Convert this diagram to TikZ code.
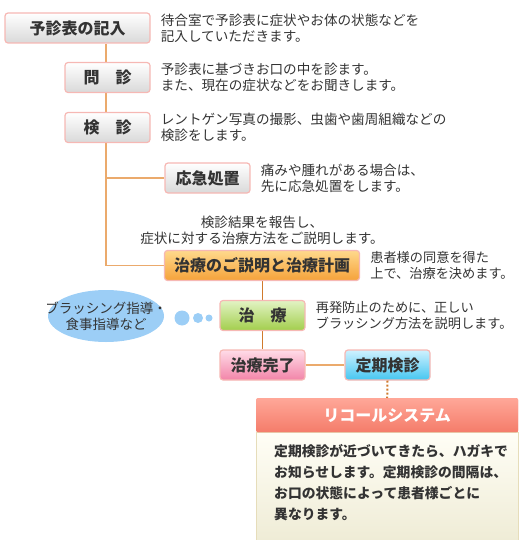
\documentclass[tikz,border=0pt]{standalone}
\usepackage{fontspec}
\setmainfont{Noto Sans CJK JP}
\usepackage{xcolor}
\usetikzlibrary{positioning,backgrounds}
\definecolor{ink}{HTML}{333333}
\definecolor{lineA}{HTML}{EBAA6C}
\definecolor{lineB}{HTML}{D07A2C}
\definecolor{glow}{HTML}{F6B8B4}
\definecolor{greyTop}{HTML}{FFFFFF}
\definecolor{greyBot}{HTML}{D9D9D9}
\definecolor{orTop}{HTML}{FFD98C}
\definecolor{orBot}{HTML}{F5A23A}
\definecolor{grTop}{HTML}{E2F3C4}
\definecolor{grBot}{HTML}{A2CE4C}
\definecolor{pkTop}{HTML}{FFDCE8}
\definecolor{pkBot}{HTML}{F284A8}
\definecolor{blTop}{HTML}{CFF1FF}
\definecolor{blBot}{HTML}{45C6F0}
\definecolor{bubble}{HTML}{9CCEF6}
\definecolor{hdTop}{HTML}{FFA798}
\definecolor{hdBot}{HTML}{F47C6A}
\definecolor{bdTop}{HTML}{FFFEF6}
\definecolor{bdBot}{HTML}{EFECD6}
\definecolor{bdLine}{HTML}{E6DDBA}
\tikzset{stepbox/.style={draw=glow,line width=1.2pt,rounded corners=3pt,
  minimum height=30pt,inner sep=0pt,font=\fontsize{16}{18}\selectfont\bfseries,
  text=ink,top color=greyTop,bottom color=greyBot},
  desc/.style={anchor=west,inner sep=0pt,align=left,text=ink,
  font=\fontsize{13.6}{16}\selectfont},
  link/.style={draw=lineA,line width=1.5pt},
  linkdark/.style={draw=lineB,line width=1.5pt}}

\begin{document}
\begin{tikzpicture}[x=1pt,y=-1pt]
\useasboundingbox (0,0) rectangle (520,540);
% flow of the visit
\node[stepbox,minimum width=145pt] (entry) at (77.5,28) {予診表の記入};
\node[desc,right=10pt of entry] (entrytxt) {待合室で予診表に症状やお体の状態などを\\記入していただきます。};
\node[stepbox,minimum width=85pt] (interview) at (107.5,77.5) {問\hspace{1em}診};
\node[desc,right=10pt of interview] (interviewtxt) {予診表に基づきお口の中を診ます。\\また、現在の症状などをお聞きします。};
\node[stepbox,minimum width=85pt] (exam) at (107.5,127.5) {検\hspace{1em}診};
\node[desc,right=10pt of exam] (examtxt) {レントゲン写真の撮影、虫歯や歯周組織などの\\検診をします。};
\node[stepbox,minimum width=85pt] (emergency) at (207.5,178) {応急処置};
\node[desc,right=10pt of emergency] (emergencytxt) {痛みや腫れがある場合は、\\先に応急処置をします。};
\node[stepbox,minimum width=195pt,top color=orTop,bottom color=orBot] (plan) at (262,265.5) {治療のご説明と治療計画};
\node[desc,anchor=south,align=center,above=5pt of plan] (plantop) {検診結果を報告し、\\症状に対する治療方法をご説明します。};
\node[desc,right=10pt of plan,font=\fontsize{13.2}{16}\selectfont] (plantxt) {患者様の同意を得た\\上で、治療を決めます。};
\node[stepbox,minimum width=85pt,top color=grTop,bottom color=grBot] (treat) at (262.5,315.5) {治\hspace{1em}療};
\node[desc,right=10pt of treat,font=\fontsize{13.2}{16}\selectfont] (treattxt) {再発防止のために、正しい\\ブラッシング方法を説明します。};
\node[stepbox,minimum width=85pt,top color=pkTop,bottom color=pkBot] (done) at (262.5,365) {治療完了};
\node[stepbox,minimum width=85pt,top color=blTop,bottom color=blBot] (checkup) at (387.5,365) {定期検診};
% side bubble
\node[inner sep=0pt,align=center,text=ink,font=\fontsize{13.5}{16}\selectfont] (brush) at (106,316)
  {ブラッシング指導・\\食事指導など};
% connectors
\begin{scope}[on background layer]
\fill[bubble] (brush.center) ellipse (58pt and 26pt);
\fill[bubble] (182,318) circle (7.5pt) (198,318) circle (5pt) (209,318) circle (3.5pt);
\coordinate (trunk) at (106,265.5);
\draw[link] (entry.south -| trunk) -- (trunk) -- (plan.west);
\draw[link] (106,178) -- (emergency.west);
\draw[linkdark] (plan.south -| treat) -- (treat.north);
\draw[linkdark] (treat) -- (done);
\draw[link] (done) -- (checkup);
\end{scope}
% recall system
\node[draw=bdLine,top color=bdTop,bottom color=bdBot,minimum width=262pt,
  minimum height=108pt,anchor=north west,inner sep=0pt] (recallbody) at (256,432) {};
\node[fill=hdBot,top color=hdTop,bottom color=hdBot,rounded corners=2pt,minimum width=262pt,
  minimum height=34pt,anchor=north west,inner sep=0pt,text=white,
  font=\fontsize{16}{18}\selectfont\bfseries] (recall) at (256,398) {リコールシステム};
\node[anchor=north west,inner sep=0pt,align=left,text=ink,
  font=\fontsize{13.8}{21}\selectfont\bfseries] (recalltxt) at (274,444)
  {定期検診が近づいてきたら、ハガキで\\お知らせします。定期検診の間隔は、\\お口の状態によって患者様ごとに\\異なります。};
\draw[draw=lineB,line width=2pt,dotted] (checkup.south) -- (recall.north);
\end{tikzpicture}
\end{document}
